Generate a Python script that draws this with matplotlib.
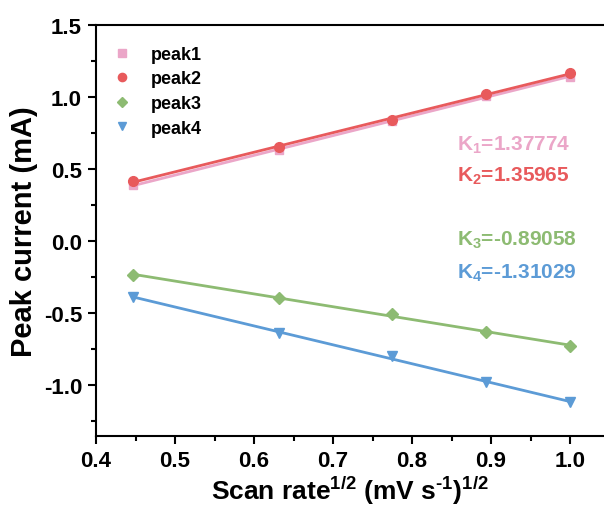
import numpy as np
import matplotlib
matplotlib.use("Agg")
import matplotlib.pyplot as plt
from matplotlib.ticker import MultipleLocator

plt.rcParams['font.family'] = ['Liberation Sans', 'DejaVu Sans']
plt.rcParams['font.weight'] = 'bold'
plt.rcParams['mathtext.fontset'] = 'custom'
plt.rcParams['mathtext.rm'] = 'Liberation Sans:bold'
plt.rcParams['mathtext.bf'] = 'Liberation Sans:bold'
plt.rcParams['mathtext.it'] = 'Liberation Sans:bold'
plt.rcParams['axes.unicode_minus'] = False

x = [0.447, 0.632, 0.775, 0.894, 1.0]
peak1 = [0.39, 0.63, 0.83, 1.01, 1.14]
peak2 = [0.42, 0.65, 0.84, 1.02, 1.17]
peak3 = [-0.236, -0.396, -0.51, -0.63, -0.73]
peak4 = [-0.39, -0.64, -0.80, -0.98, -1.12]
names = ['peak1', 'peak2', 'peak3', 'peak4']
slopes = ['K$_{1}$=1.37774', 'K$_{2}$=1.35965', 'K$_{3}$=-0.89058', 'K$_{4}$=-1.31029']

colors = ['#EBA6C8', '#E85A5C', '#8DBB72', '#5C9BD6']
markers = ['s', 'o', 'D', 'v']
msizes = [6, 7, 6, 7]

fig = plt.figure(figsize=(6.04, 5.10), dpi=100)
ax = fig.add_axes([96/604, 1-437/510, 1-96/604, (437-26)/510])

for ys, c, m, ms, n in zip([peak1, peak2, peak3, peak4], colors, markers, msizes, names):
    xa = np.array(x)
    p = np.polyfit(xa, ys, 1)
    ax.plot(xa, np.polyval(p, xa), color=c, lw=2, zorder=2)
    ax.plot(xa, ys, linestyle='none', marker=m, ms=ms, color=c, label=n, zorder=3)

ax.set_xlim(0.4, 0.4 + 508/790)
ax.set_ylim(-1.354, 1.5)
ax.xaxis.set_major_locator(MultipleLocator(0.1))
ax.xaxis.set_minor_locator(MultipleLocator(0.05))
ax.yaxis.set_major_locator(MultipleLocator(0.5))
ax.yaxis.set_minor_locator(MultipleLocator(0.25))
ax.tick_params(which='major', direction='out', length=6, width=1.5, labelsize=16, pad=4)
ax.tick_params(which='minor', direction='out', length=3.5, width=1.5)
ax.xaxis.set_major_formatter(matplotlib.ticker.FormatStrFormatter('%.1f'))
ax.yaxis.set_major_formatter(matplotlib.ticker.FormatStrFormatter('%.1f'))
for lab in ax.get_xticklabels() + ax.get_yticklabels():
    lab.set_fontweight('bold')
for s in ['left', 'bottom', 'top']:
    ax.spines[s].set_linewidth(1.5)
ax.spines['right'].set_visible(False)

ax.set_xlabel(r'Scan rate$^{1/2}$ (mV s$^{\text{-}1}$)$^{1/2}$', fontsize=19, fontweight='bold', labelpad=2)
ax.set_ylabel('Peak current (mA)', fontsize=21, fontweight='bold')
ax.yaxis.set_label_coords(-(96-38)/508, 0.5)

leg = ax.legend(loc='upper left', frameon=False, fontsize=13, handletextpad=1.1,
                borderaxespad=0.3, labelspacing=0.42, handlelength=1.0,
                bbox_to_anchor=(0.008, 0.98), markerscale=0.85)
for t in leg.get_texts():
    t.set_fontweight('bold')

ypos = [145, 176, 240, 273]
for s, c, yp in zip(slopes, colors, ypos):
    fig.text(457/604, 1 - yp/510, s, color=c, fontsize=15, fontweight='bold',
             ha='left', va='center')

fig.savefig('out.png', dpi=100)
